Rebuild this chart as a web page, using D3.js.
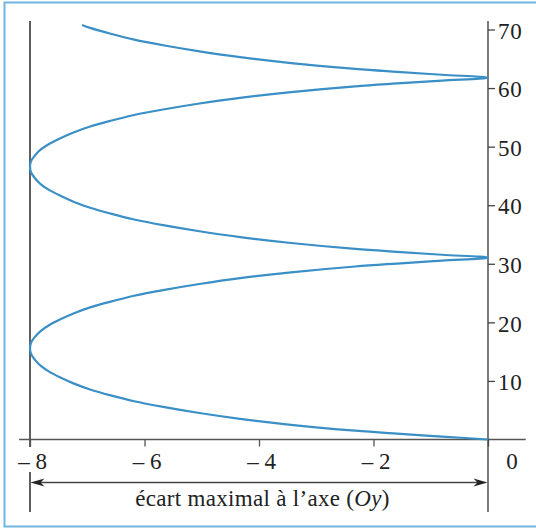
<!DOCTYPE html>
<html>
<head>
<meta charset="utf-8">
<script src="https://cdn.jsdelivr.net/npm/d3@7"></script>
<style>
  html, body { margin: 0; padding: 0; background: #fff; }
  svg { display: block; }
  text { font-family: "Liberation Serif", "Times New Roman", "DejaVu Serif", serif; fill: #222; }
</style>
</head>
<body>
<svg id="chart" width="536" height="528"></svg>
<script>
// Curve points (écart x, hauteur y), ordered along the curve
const curveX = [
  0, -0.8, -1.59, -2.32, -3.44, -4.33, -5.04, -5.65, -6.18, -6.59, -6.95, -7.23, -7.46, -7.66, -7.81, -7.91, -7.98, -8.00,
  -7.98, -7.91, -7.81, -7.66, -7.46, -7.23, -6.95, -6.59, -6.18, -5.65, -5.04, -4.33, -3.44, -2.32, -1.59, -0.8, 0,
  -0.8, -1.59, -2.32, -3.44, -4.33, -5.04, -5.65, -6.18, -6.59, -6.95, -7.23, -7.46, -7.66, -7.81, -7.91, -7.98, -8.00,
  -7.98, -7.91, -7.81, -7.66, -7.46, -7.23, -6.95, -6.59, -6.18, -5.65, -5.04, -4.33, -3.44, -2.32, -1.59, -0.8, 0,
  -0.8, -1.59, -2.32, -3.44, -4.33, -5.04, -5.65, -6.18, -6.59, -6.95, -7.09];
const curveY = [
  0, 0.50, 1.00, 1.51, 2.51, 3.52, 4.52, 5.53, 6.53, 7.53, 8.54, 9.54, 10.55, 11.55, 12.56, 13.56, 14.57, 15.57,
  16.57, 17.57, 18.56, 19.56, 20.56, 21.56, 22.56, 23.55, 24.55, 25.55, 26.55, 27.55, 28.54, 29.54, 30.04, 30.54, 31.04,
  31.54, 32.04, 32.54, 33.55, 34.55, 35.55, 36.55, 37.56, 38.56, 39.56, 40.56, 41.57, 42.57, 43.57, 44.57, 45.58, 46.58,
  47.56, 48.54, 49.52, 50.50, 51.48, 52.46, 53.44, 54.42, 55.40, 56.38, 57.36, 58.34, 59.32, 60.30, 60.79, 61.28, 61.77,
  62.27, 62.77, 63.27, 64.27, 65.27, 66.27, 67.27, 68.27, 69.27, 70.27, 70.77];

const xTicks = [-8, -6, -4, -2, 0];
const xTickLabels = ["\u2013 8", "\u2013 6", "\u2013 4", "\u2013 2", "0"];
const yTicks = [10, 20, 30, 40, 50, 60, 70];
const yTickLabels = ["10", "20", "30", "40", "50", "60", "70"];
const axisTitle = ["écart maximal à l’axe (", "O", "y", ")"];

const svg = d3.select("#chart");
const x = d3.scaleLinear().domain([-8, 0]).range([30, 488]);
const y = d3.scaleLinear().domain([0, 70]).range([439.5, 29.5]);
const FONT = "Liberation Serif, Times New Roman, DejaVu Serif, serif";

// frame
svg.append("rect").attr("x", 4.5).attr("y", 2.5).attr("width", 600).attr("height", 524)
  .attr("fill", "none").attr("stroke", "#72b5e0").attr("stroke-width", 2);

// left vertical reference line (x = -8)
const yTop = y(71.45), yBot = 512;
svg.append("line").attr("x1", x(-8)).attr("x2", x(-8)).attr("y1", yTop).attr("y2", 447)
  .attr("stroke", "#1a1a1a").attr("stroke-width", 1.4);
svg.append("line").attr("x1", x(-8)).attr("x2", x(-8)).attr("y1", 472).attr("y2", yBot)
  .attr("stroke", "#1a1a1a").attr("stroke-width", 1.4);

// x axis
const fs = 23;
const xAxis = d3.axisBottom(x).tickValues(xTicks)
  .tickFormat((d, i) => xTickLabels[i]).tickSize(7).tickPadding(6.2);
const gx = svg.append("g").attr("transform", `translate(0,${y(0)})`).call(xAxis);
gx.attr("font-family", FONT);
gx.select(".domain").remove();
gx.selectAll(".tick line").attr("stroke", "#555").attr("stroke-width", 1.3);
gx.selectAll(".tick text").attr("font-size", fs)
  .attr("fill", "#222")
  .attr("dx", d => d === 0 ? 23.5 : 2);
svg.append("line").attr("x1", x(-8.19)).attr("x2", x(0.66)).attr("y1", y(0)).attr("y2", y(0))
  .attr("stroke", "#555").attr("stroke-width", 1.4);

// y axis (right)
const yAxis = d3.axisRight(y).tickValues(yTicks)
  .tickFormat((d, i) => yTickLabels[i]).tickSize(7).tickPadding(3);
const gy = svg.append("g").attr("transform", `translate(${x(0)},0)`).call(yAxis);
gy.attr("font-family", FONT);
gy.select(".domain").remove();
gy.selectAll(".tick line").attr("stroke", "#444").attr("stroke-width", 1.3);
gy.selectAll(".tick text").attr("font-size", fs)
  .attr("fill", "#222").attr("dy", "0.38em").attr("letter-spacing", 0.8);
svg.append("line").attr("x1", x(0)).attr("x2", x(0)).attr("y1", yTop).attr("y2", yBot)
  .attr("stroke", "#444").attr("stroke-width", 1.4);

// curve
const pts = curveX.map((v, i) => [v, curveY[i]]);
const line = d3.line().x(d => x(d[0])).y(d => y(d[1])).curve(d3.curveCatmullRom.alpha(0.5));
svg.append("path").attr("d", line(pts)).attr("fill", "none")
  .attr("stroke", "#3a8fc6").attr("stroke-width", 2.2).attr("stroke-linejoin", "round");

// double arrow
const ay = 482.5;
svg.append("line").attr("x1", x(-8) + 6).attr("x2", x(0) - 6).attr("y1", ay).attr("y2", ay)
  .attr("stroke", "#444").attr("stroke-width", 1.4);
function head(tip, dir) {
  const L = 14, W = 4, N = 10;
  return `M${tip},${ay} L${tip + dir * L},${ay - W} L${tip + dir * N},${ay} L${tip + dir * L},${ay + W} Z`;
}
svg.append("path").attr("d", head(x(-8) + 0.5, 1)).attr("fill", "#222");
svg.append("path").attr("d", head(x(0) - 0.5, -1)).attr("fill", "#222");

// axis title
const t = svg.append("text").attr("x", 262.5).attr("y", 505.7).attr("text-anchor", "middle")
  .attr("font-size", fs).attr("letter-spacing", 0.3);
t.append("tspan").text(axisTitle[0]);
t.append("tspan").attr("font-style", "italic").text(axisTitle[1]);
t.append("tspan").attr("font-style", "italic").text(axisTitle[2]);
t.append("tspan").text(axisTitle[3]);
</script>
</body>
</html>
